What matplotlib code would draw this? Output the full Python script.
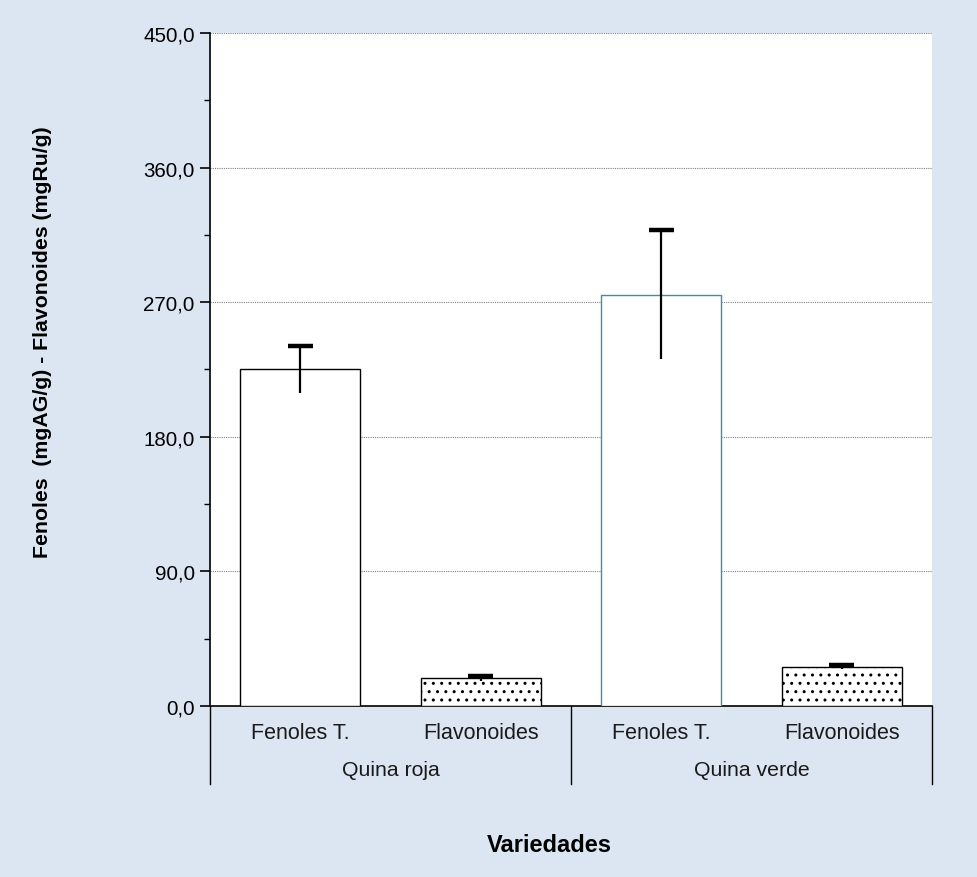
import matplotlib
matplotlib.use("Agg")
import matplotlib.pyplot as plt
from matplotlib.ticker import FixedLocator, FuncFormatter, MultipleLocator

plt.rcParams['font.family'] = ['Liberation Sans', 'DejaVu Sans']
plt.rcParams['hatch.linewidth'] = 1.0

groups = ["Quina roja", "Quina verde"]
subcats = ["Fenoles T.", "Flavonoides"]
values = [225.0, 18.5, 275.0, 26.0]
errors = [15.5, 1.5, 43.0, 1.5]
edgecolors = ["black", "black", "#3d8fa8", "black"]
hatches = [None, "..", None, ".."]
yticks = [0, 90, 180, 270, 360, 450]

bg = "#dce6f2"
fig = plt.figure(figsize=(9.77, 8.78), dpi=100, facecolor=bg)
ax = fig.add_axes([0.2149, 0.1948, 0.954 - 0.2149, 0.9613 - 0.1948])
ax.set_facecolor("white")

xs = list(range(len(values)))
for x, v, ec, h in zip(xs, values, edgecolors, hatches):
    ax.bar(x, v, width=0.667, color="white", edgecolor=ec, linewidth=1.0,
           hatch=h, zorder=3)

for x, v, e in zip(xs, values, errors):
    ax.vlines(x, v - e, v + e, color="black", linewidth=1.6, zorder=4)
    ax.hlines(v + e, x - 0.07, x + 0.07, color="black", linewidth=3.2, zorder=4)

ax.set_xlim(-0.5, 3.5)
ax.set_ylim(0, 450)
ax.yaxis.set_major_locator(FixedLocator(yticks))
ax.yaxis.set_minor_locator(MultipleLocator(45))
ax.yaxis.set_major_formatter(FuncFormatter(lambda v, p: f"{v:.1f}".replace(".", ",")))
ax.tick_params(axis='y', which='major', length=7, width=1.2, labelsize=14.8, pad=4)
ax.tick_params(axis='y', which='minor', length=4, width=1.0)
ax.set_xticks([])
ax.grid(axis='y', which='major', color="#808080", linestyle=(0, (1, 1)), linewidth=0.8, zorder=0)

for s in ["top", "right"]:
    ax.spines[s].set_visible(False)
ax.spines["left"].set_linewidth(1.2)
ax.spines["bottom"].set_linewidth(1.2)

# category labels
trans = ax.get_xaxis_transform()
for i, x in enumerate(xs):
    ax.text(x, -0.039, subcats[i % 2], transform=trans, ha="center", va="center",
            fontsize=15.5, color="#1a1a1a")
for gi, g in enumerate(groups):
    ax.text(gi * 2 + 0.5, -0.095, g, transform=trans, ha="center", va="center",
            fontsize=15.3, color="#1a1a1a")
for sx in [-0.5, 1.5, 3.5]:
    ax.plot([sx, sx], [0, -0.116], transform=trans, color="black", linewidth=1.0,
            clip_on=False)

fig.text(0.044, 0.6105, "Fenoles  (mgAG/g) - Flavonoides (mgRu/g)",
         rotation=90, ha="center", va="center", fontsize=15.3, fontweight="bold")
fig.text(0.562, 0.0365, "Variedades", ha="center", va="center", fontsize=17, fontweight="bold")

fig.savefig("out.png", dpi=100, facecolor=bg)
